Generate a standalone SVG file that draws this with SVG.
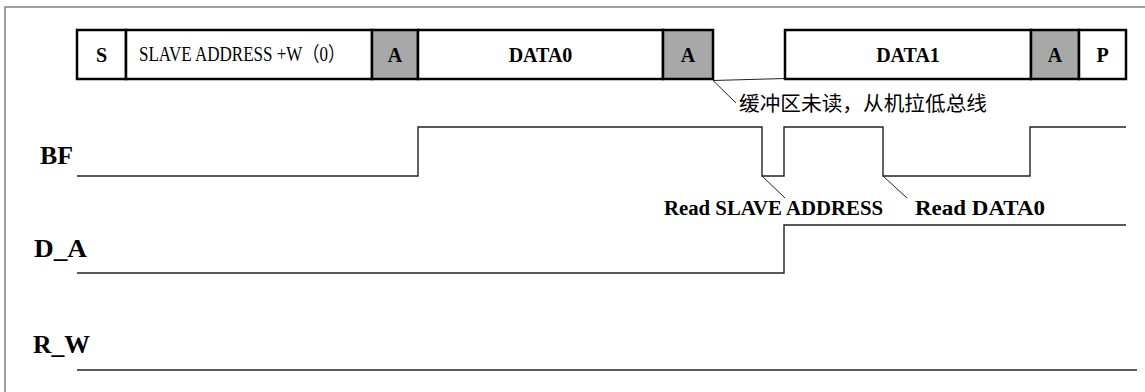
<svg xmlns="http://www.w3.org/2000/svg" width="1145" height="392" viewBox="0 0 1145 392">
<style>
.frame{fill:none;stroke:#808080;stroke-width:1.5}
.box{fill:#fff;stroke:#000;stroke-width:2.5}
.ack{fill:#a8a8a8;stroke:#000;stroke-width:2.5}
.bl{font-family:"Liberation Serif","Times New Roman",serif;font-weight:bold;font-size:20px;fill:#000;text-anchor:middle}
.nl{font-family:"Liberation Serif","Noto Sans CJK SC",serif;font-size:20px;fill:#000}
.sig{font-family:"Liberation Serif","Times New Roman",serif;font-weight:bold;font-size:26px;fill:#000}
.rd{font-family:"Liberation Serif","Times New Roman",serif;font-weight:bold;font-size:20px;fill:#000}
.cn{font-family:"Noto Sans CJK SC","Noto Sans CJK JP",sans-serif;font-size:20px;fill:#000}
.wave{fill:none;stroke:#222;stroke-width:1.4}
.lead{fill:none;stroke:#222;stroke-width:1}
</style>
<path class="frame" d="M5,392 V7 H1145"/>
<g id="field-S"><rect class="box" x="77" y="30" width="49" height="49"/><text class="bl" x="101.5" y="62">S</text></g>
<g id="field-addr"><rect class="box" x="126" y="30" width="246" height="49"/><text class="nl" x="139" y="61" textLength="206" lengthAdjust="spacingAndGlyphs">SLAVE ADDRESS +W（0）</text></g>
<g id="field-A1"><rect class="ack" x="372" y="30" width="46" height="49"/><text class="bl" x="395" y="62">A</text></g>
<g id="field-DATA0"><rect class="box" x="418" y="30" width="245" height="49"/><text class="bl" x="540.5" y="62">DATA0</text></g>
<g id="field-A2"><rect class="ack" x="663" y="30" width="50" height="49"/><text class="bl" x="688" y="62">A</text></g>
<g id="field-DATA1"><rect class="box" x="785" y="30" width="246" height="49"/><text class="bl" x="908" y="62">DATA1</text></g>
<g id="field-A3"><rect class="ack" x="1031" y="30" width="48" height="49"/><text class="bl" x="1055" y="62">A</text></g>
<g id="field-P"><rect class="box" x="1079" y="30" width="47" height="49"/><text class="bl" x="1102.5" y="62">P</text></g>
<g id="label-BF"><text class="sig" x="40" y="164" textLength="33" lengthAdjust="spacingAndGlyphs">BF</text></g>
<g id="label-DA"><text class="sig" x="34" y="257" textLength="53" lengthAdjust="spacingAndGlyphs">D_A</text></g>
<g id="label-RW"><text class="sig" x="33" y="353" textLength="57" lengthAdjust="spacingAndGlyphs">R_W</text></g>
<g id="connectors">
<polyline class="wave" points="77,176 418,176 418,127 762,127 762,176 784,176 784,127 883,127 883,176 1030,176 1030,127 1126,127"/>
<polyline class="wave" points="77,273 784,273 784,225 1126,225"/>
<polyline class="wave" points="77,370 1137,370"/>
<line class="lead" x1="713" y1="80.5" x2="785" y2="78.5"/>
<line class="lead" x1="713" y1="80.5" x2="736" y2="103"/>
<line class="lead" x1="762" y1="176" x2="785" y2="198"/>
<line class="lead" x1="883" y1="176" x2="907" y2="198"/>
</g>
<g id="note-buffer"><text class="cn" x="739" y="111" textLength="248" lengthAdjust="spacingAndGlyphs">缓冲区未读，从机拉低总线</text></g>
<g id="note-read-addr"><text class="rd" x="664" y="215" textLength="219" lengthAdjust="spacingAndGlyphs">Read SLAVE ADDRESS</text></g>
<g id="note-read-data0"><text class="rd" x="915" y="215" textLength="130" lengthAdjust="spacingAndGlyphs">Read DATA0</text></g>
</svg>
